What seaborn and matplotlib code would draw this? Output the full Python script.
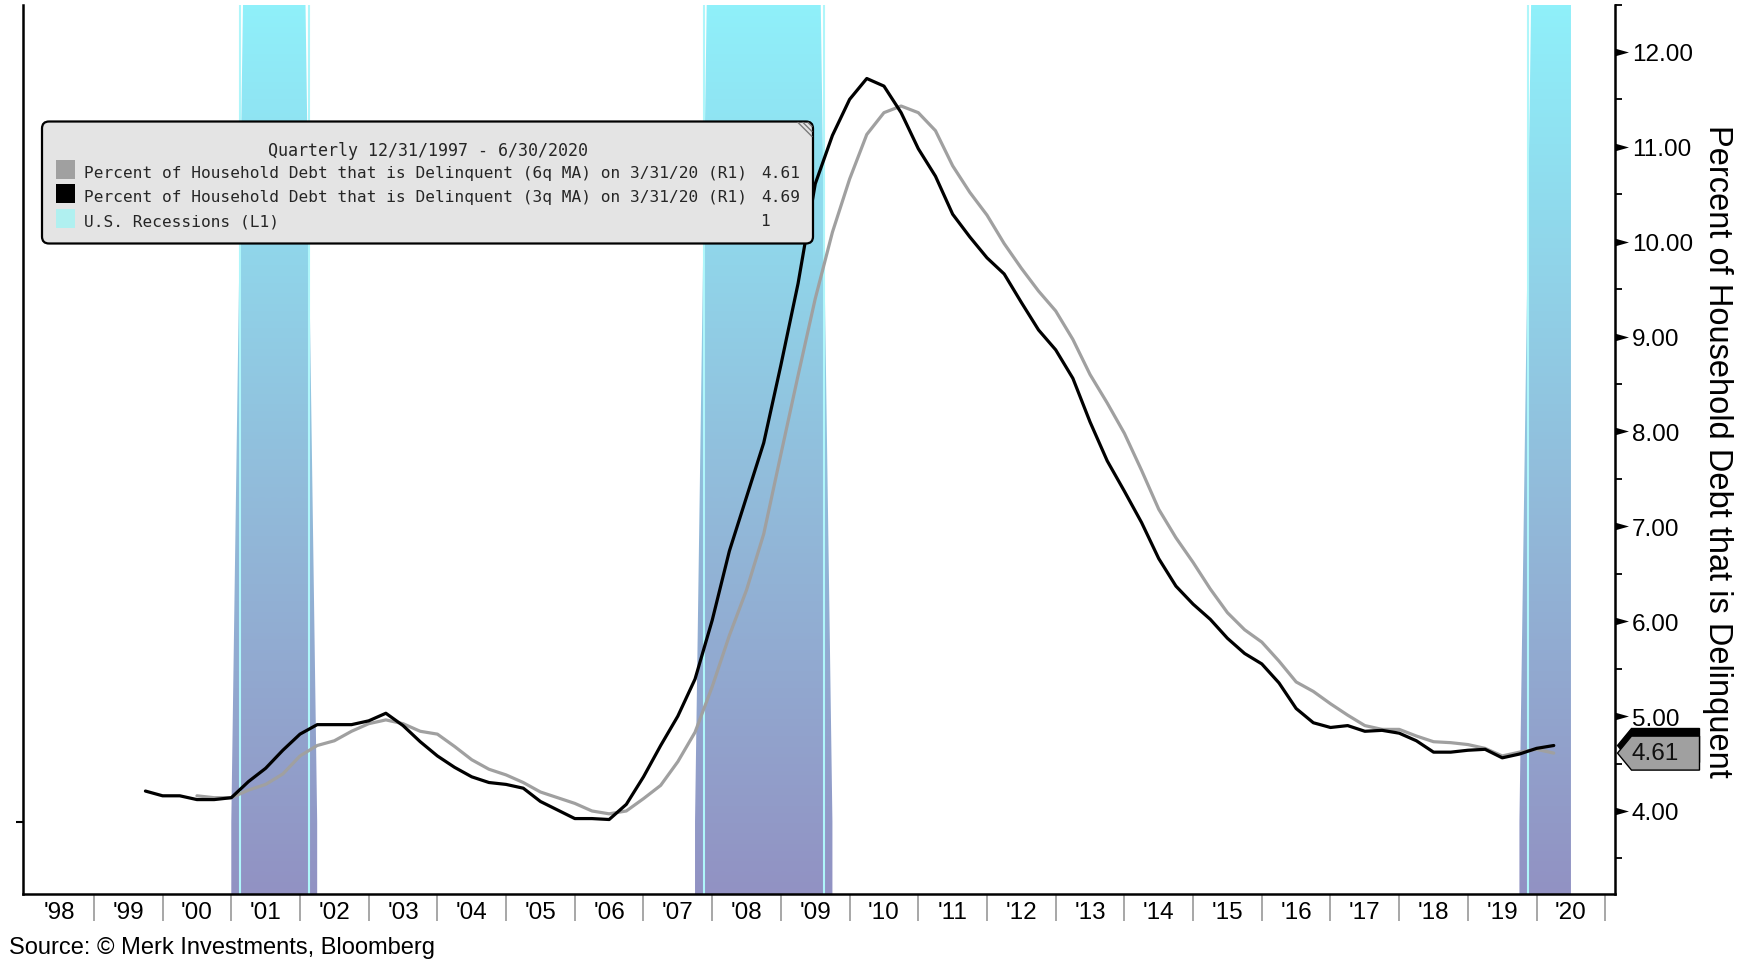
import numpy as np
import pandas as pd
import matplotlib
matplotlib.use("Agg")
import matplotlib.pyplot as plt
import seaborn as sns
from matplotlib.patches import Polygon, FancyBboxPatch, Rectangle
from matplotlib.path import Path
from matplotlib.colors import LinearSegmentedColormap
from matplotlib.lines import Line2D

# ---------------------------------------------------------------- data ----
# Percent of household debt that is delinquent, 3-quarter moving average
ma3_first_quarter = "1999Q3"
ma3_values = [
    4.21, 4.16,
    4.16, 4.12, 4.12, 4.14,
    4.31, 4.45, 4.64, 4.81,
    4.91, 4.91, 4.91, 4.95,
    5.03, 4.90, 4.73, 4.58,
    4.46, 4.36, 4.30, 4.28,
    4.24, 4.10, 4.01, 3.92,
    3.92, 3.91, 4.07, 4.36,
    4.69, 5.00, 5.39, 6.01,
    6.74, 7.31, 7.88, 8.70,
    9.56, 10.61, 11.12, 11.50,
    11.72, 11.64, 11.36, 10.98,
    10.69, 10.29, 10.05, 9.83,
    9.66, 9.36, 9.07, 8.86,
    8.56, 8.10, 7.69, 7.37,
    7.04, 6.66, 6.37, 6.18,
    6.02, 5.82, 5.66, 5.55,
    5.35, 5.08, 4.93, 4.88,
    4.90, 4.84, 4.85, 4.82,
    4.74, 4.62, 4.62, 4.64,
    4.65, 4.56, 4.60, 4.66,
    4.69,
]

# Same series, 6-quarter moving average
ma6_first_quarter = "2000Q2"
ma6_values = [
    4.16, 4.14, 4.14,
    4.22, 4.28, 4.39, 4.58,
    4.69, 4.74, 4.84, 4.92,
    4.96, 4.92, 4.84, 4.81,
    4.68, 4.54, 4.44, 4.38,
    4.30, 4.20, 4.14, 4.08,
    4.00, 3.97, 4.00, 4.13,
    4.27, 4.52, 4.83, 5.31,
    5.85, 6.33, 6.92, 7.76,
    8.59, 9.40, 10.10, 10.66,
    11.13, 11.36, 11.43, 11.36,
    11.17, 10.80, 10.52, 10.28,
    9.98, 9.72, 9.48, 9.27,
    8.97, 8.60, 8.30, 7.98,
    7.59, 7.18, 6.88, 6.62,
    6.34, 6.09, 5.91, 5.78,
    5.58, 5.36, 5.26, 5.13,
    5.01, 4.90, 4.86, 4.86,
    4.79, 4.73, 4.72, 4.70,
    4.66, 4.58, 4.62, 4.65,
    4.61,
]

# U.S. recession indicator (quarterly, 1 = recession)
recession_range = ("1997Q4", "2020Q2")
recession_quarters = [("2001Q1", "2001Q4"), ("2007Q4", "2009Q2"), ("2019Q4", "2020Q2")]

year_labels = ["'98", "'99", "'00", "'01", "'02", "'03", "'04", "'05", "'06", "'07", "'08",
               "'09", "'10", "'11", "'12", "'13", "'14", "'15", "'16", "'17", "'18", "'19", "'20"]
first_year = 1998
right_ticks = [4, 5, 6, 7, 8, 9, 10, 11, 12]

legend_title = "Quarterly 12/31/1997 - 6/30/2020"
name_ma6 = "Percent of Household Debt that is Delinquent (6q MA) on 3/31/20 (R1)"
name_ma3 = "Percent of Household Debt that is Delinquent (3q MA) on 3/31/20 (R1)"
name_rec = "U.S. Recessions (L1)"
right_label = "Percent of Household Debt that is Delinquent"
source_text = "Source: \u00a9 Merk Investments, Bloomberg"

GRAY = "#A0A0A0"
BLACK = "#000000"
CYAN_KEY = "#B0F0F0"


def quarter_end_years(first, last=None, n=None):
    """Quarter-end dates expressed as decimal years (Q4 -> next year .0)."""
    if n is not None:
        p = pd.period_range(first, periods=n, freq="Q")
    else:
        p = pd.period_range(first, last, freq="Q")
    return np.asarray(p.year + p.quarter * 0.25, dtype=float), p


t3, _ = quarter_end_years(ma3_first_quarter, n=len(ma3_values))
t6, _ = quarter_end_years(ma6_first_quarter, n=len(ma6_values))
t_rec, p_rec = quarter_end_years(*recession_range)
rec_flag = np.zeros(len(p_rec))
for a, b in recession_quarters:
    rec_flag[(p_rec >= pd.Period(a, "Q")) & (p_rec <= pd.Period(b, "Q"))] = 1.0

df3 = pd.DataFrame({"date": t3, "value": ma3_values})
df6 = pd.DataFrame({"date": t6, "value": ma6_values})

# ---------------------------------------------------------------- figure --
sns.set_style("white")
plt.rcParams["font.family"] = ["Liberation Sans", "DejaVu Sans"]

W, H = 1745, 962
fig = plt.figure(figsize=(W / 100, H / 100), dpi=100)


def fx(X):
    return X / W


def fy(Y):
    return 1 - Y / H


AX_L, AX_R, AX_T, AX_B = 23, 1615, 5.5, 895
ax = fig.add_axes([fx(AX_L), fy(AX_B), (AX_R - AX_L) / W, (AX_B - AX_T) / H])
axr = ax.twinx()

px_per_year = 68.7
x0_px = 25.2  # pixel of Jan 1 of first_year
xlim = (first_year + (AX_L - x0_px) / px_per_year, first_year + (AX_R - x0_px) / px_per_year)
rec_ylim = (-0.06, 0.68)
right_ylim = (3.125, 12.5)

# ---- recession shading (left axis) with vertical colour gradient
mask = np.convolve(rec_flag, [1, 1, 1], mode="same") > 0
shade = ax.fill_between(t_rec, rec_flag, -1, where=mask, facecolor="none",
                        edgecolor="none", interpolate=False)
clip_path = Path.make_compound_path(*shade.get_paths())
grad = np.linspace(0, 1, 256).reshape(-1, 1)
rec_cmap = LinearSegmentedColormap.from_list("rec", ["#9292C3", "#91C0DD", "#8FF0FA"])
im = ax.imshow(grad, cmap=rec_cmap, origin="lower", aspect="auto",
               extent=(xlim[0], xlim[1], rec_ylim[0], rec_ylim[1]),
               interpolation="bilinear", zorder=0)
im.set_clip_path(clip_path, ax.transData)

for a, b in recession_quarters:
    ia = np.where(p_rec == pd.Period(a, "Q"))[0][0]
    ib = np.where(p_rec == pd.Period(b, "Q"))[0][0]
    ax.axvline(t_rec[ia] - 0.125, color="#AFF6FA", lw=1.5, zorder=1)
    if ib < len(t_rec) - 1:
        ax.axvline(t_rec[ib] + 0.125, color="#AFF6FA", lw=1.5, zorder=1)

ax.set_xlim(*xlim)
ax.set_ylim(*rec_ylim)

# ---- delinquency lines (right axis)
sns.lineplot(data=df6, x="date", y="value", ax=axr, color=GRAY, lw=2.3,
             estimator=None, legend=False)
sns.lineplot(data=df3, x="date", y="value", ax=axr, color=BLACK, lw=2.3,
             estimator=None, legend=False)
axr.set_xlabel("")
axr.set_ylabel("")
ax.set_xlabel("")
ax.set_ylabel("")
axr.set_xlim(*xlim)
axr.set_ylim(*right_ylim)

# ---- spines
for a in (ax, axr):
    for s in a.spines.values():
        s.set_visible(False)
for a, side in ((ax, "left"), (ax, "bottom"), (axr, "right")):
    a.spines[side].set_visible(True)
    a.spines[side].set_color("black")
    a.spines[side].set_linewidth(1.8)

# ---- x axis: year labels centred between year separators
years = np.arange(first_year, first_year + len(year_labels))
ax.set_xticks(years + 0.5)
ax.set_xticklabels(year_labels)
ax.set_xticks(years[1:].tolist() + [years[-1] + 1], minor=True)
ax.tick_params(axis="x", which="major", length=0, pad=5, labelsize=17.5, labelcolor="black")
ax.tick_params(axis="x", which="minor", length=19.5, width=1.1, color="#8F8F8F",
               direction="out", bottom=True)

# ---- left axis: single tick at zero
ax.set_yticks([0])
ax.set_yticklabels([""])
ax.tick_params(axis="y", which="major", length=5, width=1.5, color="black",
               direction="out", left=True)

# ---- right axis
axr.set_yticks(right_ticks)
axr.set_yticklabels([f"{v:.2f}" for v in right_ticks])
axr.set_yticks(np.arange(right_ticks[0] - 0.5, right_ticks[-1] + 0.51, 1.0), minor=True)
axr.tick_params(axis="y", which="minor", length=5, width=1.3, color="black",
                direction="out", right=True)
tri_size = 19.4
axr.tick_params(axis="y", which="major", length=tri_size, width=0, pad=12.2 - tri_size,
                labelsize=17.5, labelcolor="black", direction="out", right=True)
tri = Path([(0, -3.8), (13.5, 0), (0, 3.8), (0, -3.8)],
           [Path.MOVETO, Path.LINETO, Path.LINETO, Path.CLOSEPOLY])
for tk in axr.yaxis.get_major_ticks():
    tk.tick2line.set_marker(tri)
    tk.tick2line.set_markersize(tri_size)
    tk.tick2line.set_markerfacecolor("black")
    tk.tick2line.set_markeredgecolor("black")
    tk.tick2line.set_markeredgewidth(0)

fig.text(fx(1718), fy(451.5), right_label, rotation=270, fontsize=23.5,
         ha="center", va="center", color="black")

# ---- last-value tags on the right axis
ytr = axr.get_yaxis_transform()
ax_w = AX_R - AX_L
half_h = 17 / ((AX_B - AX_T) / (right_ylim[1] - right_ylim[0]))


def value_tag(value, face, z, label=None):
    xa = [(1617.5 - AX_L) / ax_w, (1631.5 - AX_L) / ax_w, (1699.5 - AX_L) / ax_w,
          (1699.5 - AX_L) / ax_w, (1631.5 - AX_L) / ax_w]
    ya = [value, value + half_h, value + half_h, value - half_h, value - half_h]
    poly = Polygon(np.column_stack([xa, ya]), closed=True, transform=ytr,
                   facecolor=face, edgecolor="black", lw=1.0, clip_on=False, zorder=z)
    axr.add_patch(poly)
    if label is not None:
        axr.text((1631.5 - AX_L) / ax_w, value, label, transform=ytr, fontsize=17.5,
                 ha="left", va="center", color="#111111", clip_on=False, zorder=z + 1)


value_tag(ma3_values[-1], BLACK, 20)
value_tag(ma6_values[-1], GRAY, 21, f"{ma6_values[-1]:.2f}")

# ---- legend panel
box_l, box_t, box_r, box_b = 42, 122.5, 813, 244.5
panel = FancyBboxPatch((fx(box_l), fy(box_b)), (box_r - box_l) / W, (box_b - box_t) / H,
                       boxstyle="round,pad=0,rounding_size=0.004",
                       mutation_aspect=W / H, transform=fig.transFigure,
                       facecolor="#E4E4E4", edgecolor="black", lw=1.6, zorder=30)
fig.add_artist(panel)
for d in (4, 9, 14):
    fig.add_artist(Line2D([fx(box_r - 1 - d), fx(box_r - 1)], [fy(box_t + 1), fy(box_t + 1 + d)],
                          transform=fig.transFigure, color="#7A7A7A", lw=1.0, zorder=31))

mono = "DejaVu Sans Mono"
fig.text(fx((box_l + box_r) / 2), fy(151), legend_title, family=mono, fontsize=12,
         ha="center", va="center", zorder=31)
rows = [(name_ma6, GRAY, f"{ma6_values[-1]:.2f}", 170.5),
        (name_ma3, BLACK, f"{ma3_values[-1]:.2f}", 194.5),
        (name_rec, CYAN_KEY, f"{int(rec_flag.max())}", 219.0)]
value_right = [800, 800, 769.5]
for (name, col, val, yc), xv in zip(rows, value_right):
    fig.add_artist(Rectangle((fx(56), fy(yc + 9.5)), 19 / W, 19 / H, transform=fig.transFigure,
                             facecolor=col, edgecolor="none", zorder=31))
    fig.text(fx(84.5), fy(yc + 3), name, family=mono, fontsize=11.6, ha="left", va="center",
             zorder=32)
    fig.text(fx(xv), fy(yc + 3), val, family=mono, fontsize=11.6, ha="right", va="center",
             zorder=32)

# ---- source line
fig.text(fx(9), fy(948), source_text, fontsize=17, ha="left", va="center", color="black")

fig.savefig("out.png", dpi=100)
